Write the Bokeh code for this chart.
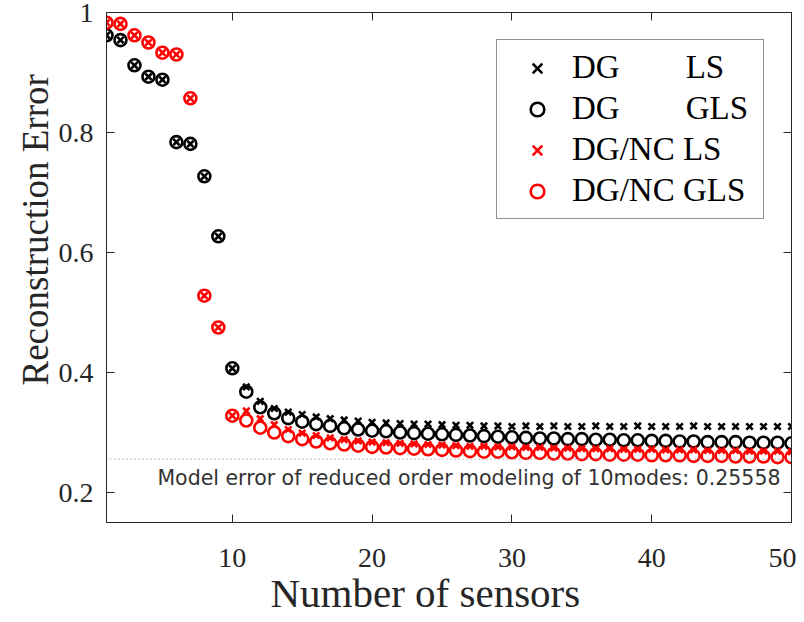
from bokeh.plotting import figure
from bokeh.models import (ColumnDataSource, LinearAxis, FixedTicker, Span, Label,
                          Legend, LegendItem, CustomJSTickFormatter, Title)
from bokeh.embed import file_html
from bokeh.resources import INLINE

# ---------------- data ----------------
n_sensors = list(range(1, 51))

dg_ls = [0.962, 0.954, 0.912, 0.893, 0.888, 0.784, 0.781, 0.727, 0.627, 0.407,
         0.376, 0.352, 0.340, 0.334, 0.330, 0.326, 0.323, 0.321, 0.319, 0.317,
         0.316, 0.315, 0.314, 0.314, 0.313, 0.312, 0.312, 0.311, 0.311, 0.310,
         0.311, 0.310, 0.311, 0.310, 0.310, 0.311, 0.310, 0.310, 0.311, 0.310,
         0.310, 0.310, 0.311, 0.310, 0.310, 0.310, 0.310, 0.310, 0.310, 0.310]

dg_gls = [0.962, 0.954, 0.912, 0.893, 0.888, 0.784, 0.781, 0.727, 0.627, 0.407,
          0.368, 0.342, 0.332, 0.324, 0.318, 0.314, 0.311, 0.307, 0.305, 0.303,
          0.302, 0.300, 0.299, 0.298, 0.297, 0.296, 0.295, 0.294, 0.293, 0.292,
          0.291, 0.290, 0.290, 0.289, 0.289, 0.288, 0.288, 0.287, 0.287, 0.286,
          0.286, 0.285, 0.285, 0.284, 0.284, 0.284, 0.283, 0.283, 0.283, 0.282]

nc_ls = [0.983, 0.981, 0.962, 0.950, 0.933, 0.930, 0.857, 0.528, 0.475, 0.328,
         0.336, 0.323, 0.313, 0.305, 0.299, 0.295, 0.291, 0.288, 0.286, 0.284,
         0.283, 0.282, 0.281, 0.280, 0.279, 0.278, 0.277, 0.277, 0.276, 0.276,
         0.275, 0.275, 0.274, 0.274, 0.273, 0.273, 0.273, 0.272, 0.272, 0.272,
         0.271, 0.271, 0.271, 0.270, 0.270, 0.270, 0.269, 0.269, 0.269, 0.268]

nc_gls = [0.983, 0.981, 0.962, 0.950, 0.933, 0.930, 0.857, 0.528, 0.475, 0.328,
          0.320, 0.308, 0.300, 0.294, 0.289, 0.285, 0.282, 0.280, 0.278, 0.276,
          0.275, 0.274, 0.273, 0.272, 0.271, 0.270, 0.269, 0.268, 0.268, 0.267,
          0.266, 0.266, 0.265, 0.265, 0.264, 0.264, 0.263, 0.263, 0.263, 0.262,
          0.262, 0.262, 0.261, 0.261, 0.261, 0.260, 0.260, 0.260, 0.259, 0.259]

model_error = 0.25558
x_ticks = [10, 20, 30, 40, 50]
y_ticks = [0.2, 0.4, 0.6, 0.8, 1.0]
series_labels = ["DG\u00a0\u00a0\u00a0\u00a0\u00a0\u00a0\u00a0\u00a0LS",
                 "DG\u00a0\u00a0\u00a0\u00a0\u00a0\u00a0\u00a0\u00a0GLS",
                 "DG/NC LS", "DG/NC GLS"]
x_label = "Number of sensors"
y_label = "Reconstruction Error"

# ---------------- figure ----------------
AX = "#262626"
SERIF = "Liberation Serif"

source = ColumnDataSource(dict(n=n_sensors, dg_ls=dg_ls, dg_gls=dg_gls,
                               nc_ls=nc_ls, nc_gls=nc_gls))

p = figure(frame_width=685, frame_height=510,
           x_range=(1, 50), y_range=(0.15, 1.0),
           output_backend="svg", toolbar_location=None,
           min_border_left=106, min_border_top=12, min_border_right=5,
           min_border_bottom=60)
p.background_fill_color = "white"
p.border_fill_color = "white"
p.outline_line_color = AX
p.xgrid.visible = False
p.ygrid.visible = False

for ax, ticks in ((p.xaxis[0], x_ticks), (p.yaxis[0], y_ticks)):
    ax.ticker = FixedTicker(ticks=ticks)
    ax.axis_line_color = AX
    ax.major_tick_line_color = AX
    ax.major_tick_in = 8
    ax.major_tick_out = 0
    ax.minor_tick_line_color = None
    ax.major_label_text_font = SERIF
    ax.major_label_text_font_size = "28px"
    ax.major_label_text_color = AX

p.xaxis.major_label_standoff = 26
p.yaxis.major_label_standoff = 13
p.yaxis.major_label_overrides = {1: "1"}

# axis titles (placed outside the axes, slightly off-centre like the original)
p.add_layout(Title(text=y_label, align="left", offset=137, standoff=0,
                   text_font=SERIF, text_font_size="37px",
                   text_font_style="normal", text_color=AX), "left")
p.add_layout(Title(text=x_label, align="left", offset=164, standoff=0,
                   vertical_align="top",
                   text_font=SERIF, text_font_size="41px",
                   text_font_style="normal", text_color=AX), "below")

blank = CustomJSTickFormatter(code="return ''")
for place, ticks in (("above", x_ticks), ("right", y_ticks)):
    a = LinearAxis(ticker=FixedTicker(ticks=ticks), formatter=blank)
    a.axis_line_color = AX
    a.major_tick_line_color = AX
    a.major_tick_in = 8
    a.major_tick_out = 0
    a.minor_tick_line_color = None
    a.major_label_text_font_size = "1px"
    a.major_label_standoff = 0
    p.add_layout(a, place)

p.add_layout(Span(location=model_error, dimension="width",
                  line_color="#a0a0a0", line_width=1.2, line_dash="1 3"))

r1 = p.scatter("n", "dg_ls", source=source, marker="x", size=9,
               line_color="black", line_width=2.6)
r2 = p.scatter("n", "dg_gls", source=source, marker="circle", size=12,
               line_color="black", fill_color=None, line_width=2.6)
r3 = p.scatter("n", "nc_ls", source=source, marker="x", size=9,
               line_color="#ff0000", line_width=2.6)
r4 = p.scatter("n", "nc_gls", source=source, marker="circle", size=12,
               line_color="#ff0000", fill_color=None, line_width=2.6)

p.add_layout(Label(x=50, y=model_error, x_offset=-11, y_offset=-19,
                   text=f"Model error of reduced order modeling of 10modes: {model_error}",
                   text_font="DejaVu Sans", text_font_size="20.5px",
                   text_color="#333333", text_align="right",
                   text_baseline="middle"))

legend = Legend(items=[LegendItem(label=lab, renderers=[r])
                       for lab, r in zip(series_labels, (r1, r2, r3, r4))],
                location="top_right", margin=27, padding=9, spacing=4,
                glyph_width=62, glyph_height=34, label_height=34,
                label_standoff=4, label_width=182,
                label_text_font=SERIF, label_text_font_size="33px",
                label_text_color="black",
                border_line_color=AX, border_line_width=1,
                background_fill_color="white", background_fill_alpha=1)
p.add_layout(legend)

open("out.html", "w").write(file_html(p, INLINE))
